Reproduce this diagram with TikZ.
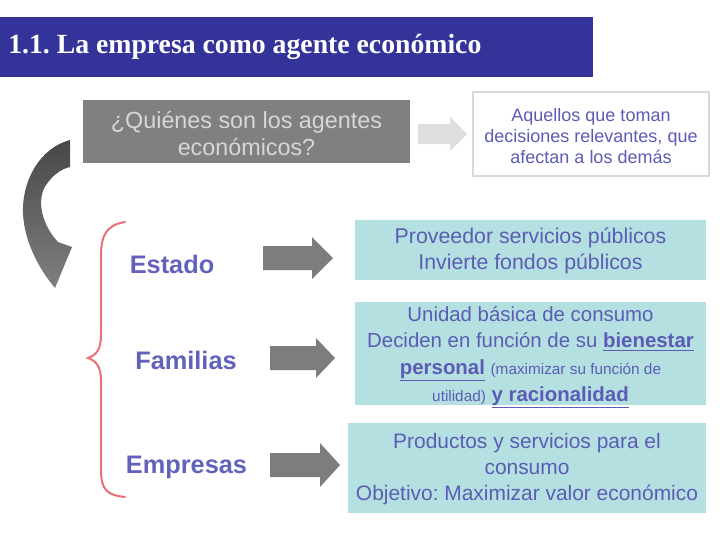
\documentclass[tikz,border=0pt]{standalone}
\usepackage{fontspec}
\setmainfont{Liberation Sans}
\newfontfamily\titlefont{Liberation Serif}
\frenchspacing
\definecolor{titleblue}{RGB}{51,51,153}
\definecolor{qgray}{RGB}{128,128,128}
\definecolor{qtext}{RGB}{215,215,215}
\definecolor{lightarrow}{RGB}{222,222,222}
\definecolor{defborder}{RGB}{215,215,222}
\definecolor{bluetext}{RGB}{92,92,180}
\definecolor{labeltext}{RGB}{98,98,188}
\definecolor{tealfill}{RGB}{180,224,226}
\definecolor{bracered}{RGB}{232,112,122}
\definecolor{arrowgray}{RGB}{125,125,125}
\newcommand\blockarr[7]{%
  \fill[#7] (#1,#3-#4) -- (#2,#3-#4) -- (#2,#3-#5) -- (#6,#3) -- (#2,#3+#5) -- (#2,#3+#4) -- (#1,#3+#4) -- cycle;}
\tikzset{
  bar/.style={fill=titleblue, inner sep=0pt},
  qbox/.style={fill=qgray, inner sep=0pt},
  defbox/.style={fill=white, draw=defborder, line width=1.5pt, inner sep=0pt},
  tealbox/.style={fill=tealfill, inner sep=0pt},
  boxtext/.style={align=center, text=bluetext, inner sep=0pt, font=\fontsize{16}{19.5}\selectfont},
  agent/.style={text=labeltext, inner sep=0pt, font=\bfseries\fontsize{19}{22}\selectfont}
}
\begin{document}
\begin{tikzpicture}[x=0.75pt,y=-0.75pt]
\useasboundingbox (0,0) rectangle (720,540);
% title bar
\node[bar, minimum width=444.75pt, minimum height=45pt] (bar) at (296.5,47) {};
\node[anchor=west, text=white, inner sep=0pt, font=\titlefont\bfseries\fontsize{20.8}{24}\selectfont] (title) at (8,47) {1.1. La empresa como agente económico};
% question box
\node[qbox, minimum width=245.25pt, minimum height=47.25pt] (q) at (246.5,131.5) {};
\node[align=center, text=qtext, inner sep=0pt, font=\fontsize{17.5}{20}\selectfont] (qt) at (246.5,133.5) {¿Quiénes son los agentes\\económicos?};
% light arrow
\blockarr{418}{450}{134}{10}{17}{467}{lightarrow}
% definition box
\node[defbox, minimum width=177pt, minimum height=63pt] (def) at (591,134) {};
\node[align=center, text=bluetext, inner sep=0pt, font=\fontsize{13.5}{15.75}\selectfont] (deft) at (591,136) {Aquellos que toman\\decisiones relevantes, que\\afectan a los demás};
% curved arrow
\shade[top color=black!72, bottom color=black!50]
  (70,140) .. controls (40,148) and (22,180) .. (23,213)
  .. controls (24,240) and (38,268) .. (55,288)
  -- (72,247) -- (58,242)
  .. controls (42,225) and (36,200) .. (46,185)
  .. controls (53,175) and (61,169) .. (70,167) -- cycle;
% brace
\draw[bracered, line width=1.5pt, line cap=round]
  (125,222) .. controls (106,225) and (101,236) .. (101,256) -- (101,335)
  .. controls (101,350) and (96,355) .. (88,358)
  .. controls (96,361) and (101,366) .. (101,381) -- (101,470)
  .. controls (101,490) and (107,495) .. (125,497);
% agents
\node[agent] (estado) at (172,264) {Estado};
\node[agent] (familias) at (186,360) {Familias};
\node[agent] (empresas) at (186.5,467) {Empresas};
% block arrows
\blockarr{263}{312}{258}{12}{21}{333}{arrowgray}
\blockarr{270}{316}{358}{12}{20}{335}{arrowgray}
\blockarr{270}{320}{465}{12}{22}{340}{arrowgray}
% teal boxes
\node[tealbox, minimum width=263.25pt, minimum height=45pt] (b1) at (530.5,250) {};
\node[boxtext] (b1t) at (530.5,251) {Proveedor servicios públicos\\Invierte fondos públicos};
\node[tealbox, minimum width=263.25pt, minimum height=77.25pt] (b2) at (530.5,353.5) {};
\node[boxtext, font=\fontsize{15.3}{20}\selectfont] (b2t) at (530.5,357) {Unidad básica de consumo\\Deciden en función de su \underline{\textbf{bienestar}}\\\underline{\textbf{personal}} {\fontsize{11.5}{13}\selectfont(maximizar su función de}\\{\fontsize{11.5}{13}\selectfont utilidad)} \underline{\textbf{y racionalidad}}};
\node[tealbox, minimum width=268.5pt, minimum height=67.5pt] (b3) at (527,468) {};
\node[boxtext, font=\fontsize{15.7}{19.5}\selectfont] (b3t) at (527,469) {Productos y servicios para el\\consumo\\Objetivo: Maximizar valor económico};
\end{tikzpicture}
\end{document}
